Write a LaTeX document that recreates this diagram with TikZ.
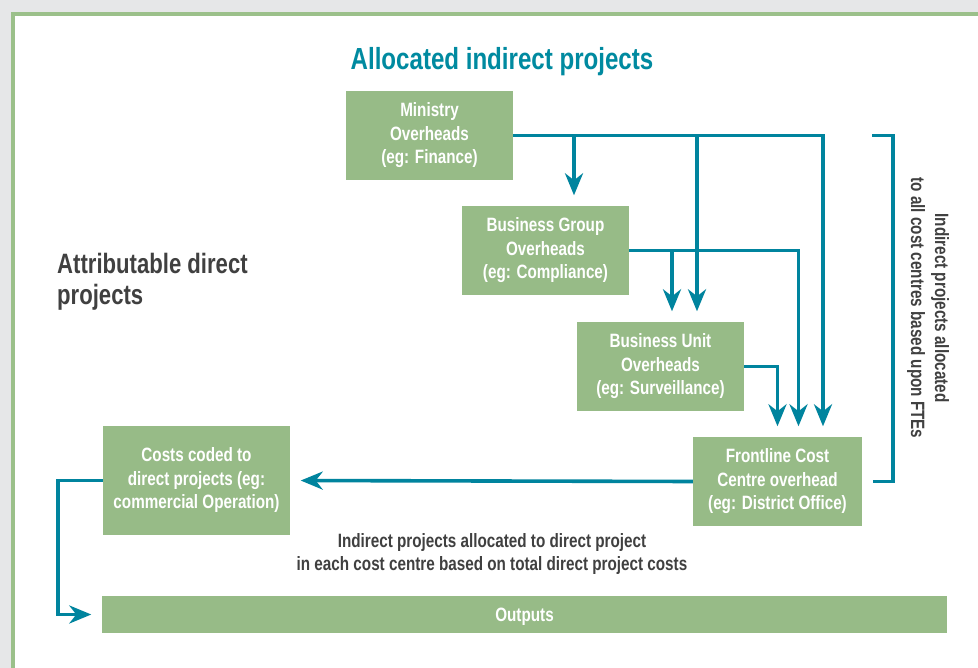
\documentclass[tikz,border=0pt]{standalone}
\usepackage{fontspec}
\newfontfamily\cf{Liberation Sans}[FakeStretch=0.79]
\usetikzlibrary{arrows.meta}
\definecolor{boxgreen}{RGB}{151,187,135}
\definecolor{bordergreen}{RGB}{155,192,138}
\definecolor{teal}{RGB}{0,132,158}
\definecolor{titleteal}{RGB}{0,138,160}
\definecolor{darktext}{RGB}{64,64,64}
\definecolor{bggray}{RGB}{230,231,232}
\tikzset{
  gbox/.style={fill=boxgreen, text=white, align=center, inner sep=0pt,
    font=\cf\bfseries\fontsize{19.3}{23.5}\selectfont},
  lbl/.style={text=darktext, font=\cf\bfseries\fontsize{19.3}{23}\selectfont, inner sep=0pt},
  conn/.style={draw=teal, line width=3.6pt},
  arr/.style={conn, -{Stealth[length=22pt,width=18pt,inset=7pt]}, shorten >=10.5pt}
}
\begin{document}
\begin{tikzpicture}[x=1pt,y=-1pt]
\useasboundingbox (0,0) rectangle (978,668);
\clip (0,0) rectangle (978,668);
\fill[bggray] (0,0) rectangle (978,668);
\draw[bordergreen, line width=4pt, fill=white] (13,14) rectangle (1010,700);

\node[text=titleteal, font=\cf\bfseries\fontsize{30.5}{34}\selectfont, inner sep=0pt] (title) at (502,61.5) {Allocated indirect projects};
\node[lbl, anchor=west, align=left, font=\cf\bfseries\fontsize{28}{31}\selectfont] (attr) at (57,282) {Attributable direct\\projects};

\node[gbox, minimum width=167pt, minimum height=89pt] (min) at (429.5,135.5) {Ministry\\Overheads\\(eg: Finance)};
\node[gbox, minimum width=167pt, minimum height=89pt] (bg) at (545.5,250.5) {Business Group\\Overheads\\(eg: Compliance)};
\node[gbox, minimum width=167pt, minimum height=89pt] (bu) at (660.5,366.5) {Business Unit\\Overheads\\(eg: Surveillance)};
\node[gbox, minimum width=169pt, minimum height=89pt] (front) at (777.5,481.5) {Frontline Cost\\Centre overhead\\(eg: District Office)};
\node[gbox, minimum width=187pt, minimum height=109pt] (costs) at (196.5,480.5) {Costs coded to\\direct projects (eg:\\commercial Operation)};
\node[gbox, minimum width=845pt, minimum height=37pt, text height=14pt, text depth=0pt] (out) at (524.5,614.5) {Outputs};

\node[lbl, align=center] (bottom) at (492,554) {Indirect projects allocated to direct project\\in each cost centre based on total direct project costs};
\node[lbl, align=center, rotate=-90, font=\cf\bfseries\fontsize{19.3}{24}\selectfont] (side) at (928,308) {Indirect projects allocated\\to all cost centres based upon FTEs};

% junction coordinates
\coordinate (fm) at ([xshift=45.5]front.north);
\coordinate (fg) at ([xshift=21]front.north);
\coordinate (fu) at (front.north);
\coordinate (bgin) at ([xshift=28.5]bg.north);
\coordinate (bum) at ([xshift=36.5]bu.north);
\coordinate (bug) at ([xshift=11.5]bu.north);
\coordinate (cl) at (58,614.5);
\coordinate (bb) at (873,481.5);
\coordinate (bt) at (872,135.5);

\draw[arr] (min.east) -| (fm);
\draw[arr] (bgin |- min.east) -- (bgin);
\draw[arr] (bum |- min.east) -- (bum);
\draw[arr] (bg.east) -| (fg);
\draw[arr] (bug |- bg.east) -- (bug);
\draw[arr] (bu.east) -| (fu);
\draw[arr] (front.west) -- (costs.east);
\draw[arr] (costs.west) -| (cl) -- (out.west);
\draw[conn] (bb) -- ++(20,0) |- (bt);
\end{tikzpicture}
\end{document}
